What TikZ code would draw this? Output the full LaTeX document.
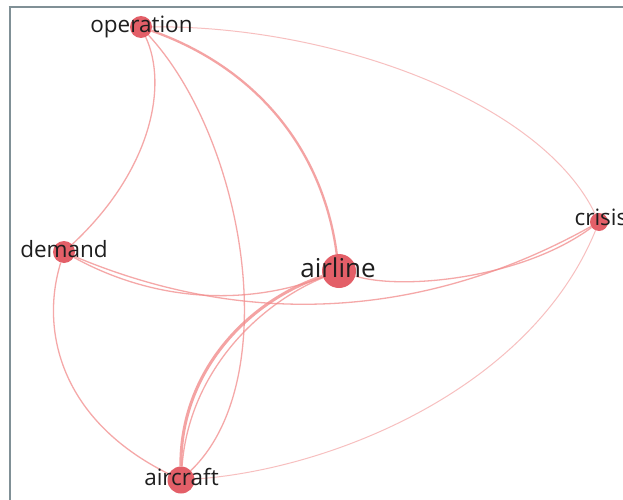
\documentclass[tikz,border=0pt]{standalone}
\usepackage{fontspec}
\setmainfont{Open Sans}
\pgfdeclarelayer{edges}
\pgfsetlayers{edges,main}
\definecolor{edgecol}{RGB}{242,140,140}
\definecolor{nodecol}{RGB}{224,78,88}
\definecolor{labcol}{RGB}{30,30,30}
\definecolor{framecol}{RGB}{128,144,150}
\tikzset{
  nodecirc/.style={circle, fill=nodecol, fill opacity=0.9, draw=none, inner sep=0pt},
  lab/.style={anchor=base, text=labcol, inner sep=0pt, font=\fontsize{22.5}{26}\selectfont},
  biglab/.style={lab, font=\fontsize{26}{30}\selectfont},
  link/.style={draw=edgecol, line width=1.3pt, opacity=0.75},
  faint/.style={draw=edgecol, line width=1pt, opacity=0.55},
  heavy/.style={draw=edgecol, line width=2.3pt, opacity=0.8},
}
\begin{document}
\begin{tikzpicture}[x=1pt,y=-1pt]
\useasboundingbox (0,0) rectangle (623,500);
% nodes
\node[nodecirc, minimum size=22pt] (op) at (141,27) {};
\node[nodecirc, minimum size=22pt] (de) at (64,252) {};
\node[nodecirc, minimum size=34pt] (ai) at (339,271) {};
\node[nodecirc, minimum size=18pt] (cr) at (599,222) {};
\node[nodecirc, minimum size=27pt] (ac) at (181,480) {};
% labels
\node[lab] (opl) at (141.5,33) {operation};
\node[lab] (del) at (64,257) {demand};
\node[biglab] (ail) at (338,277) {airline};
\node[lab] (crl) at (601,225) {crisis};
\node[lab] (acl) at (181.5,485) {aircraft};
\begin{pgfonlayer}{edges}
\fill[white] (0,0) rectangle (623,500);
% frame
\draw[framecol, line width=2pt] (9.5,6.5) -- (9.5,500);
\draw[framecol, line width=1.5pt] (8.5,7) -- (623,7);
% edges
\path[heavy] (op) .. controls (257,68) and (323,150) .. (ai);
\path[link] (op) .. controls (245,140) and (285,380) .. (ac);
\path[link] (op) .. controls (168,85) and (152,170) .. (de);
\path[faint] (op) .. controls (330,25) and (540,100) .. (cr);
\path[link] (de) .. controls (153,301) and (244,307) .. (ai);
\path[link] (de) .. controls (247,329) and (425,319) .. (cr);
\path[link] (de) .. controls (40,330) and (60,420) .. (ac);
\path[heavy, line width=3pt] (ai) .. controls (250,300) and (180,370) .. (ac);
\path[link] (ai) .. controls (257,305) and (189,373) .. (ac);
\path[link] (ai) .. controls (400,290) and (520,280) .. (cr);
\path[faint] (ac) .. controls (330,470) and (530,390) .. (cr);
\end{pgfonlayer}
\end{tikzpicture}
\end{document}
